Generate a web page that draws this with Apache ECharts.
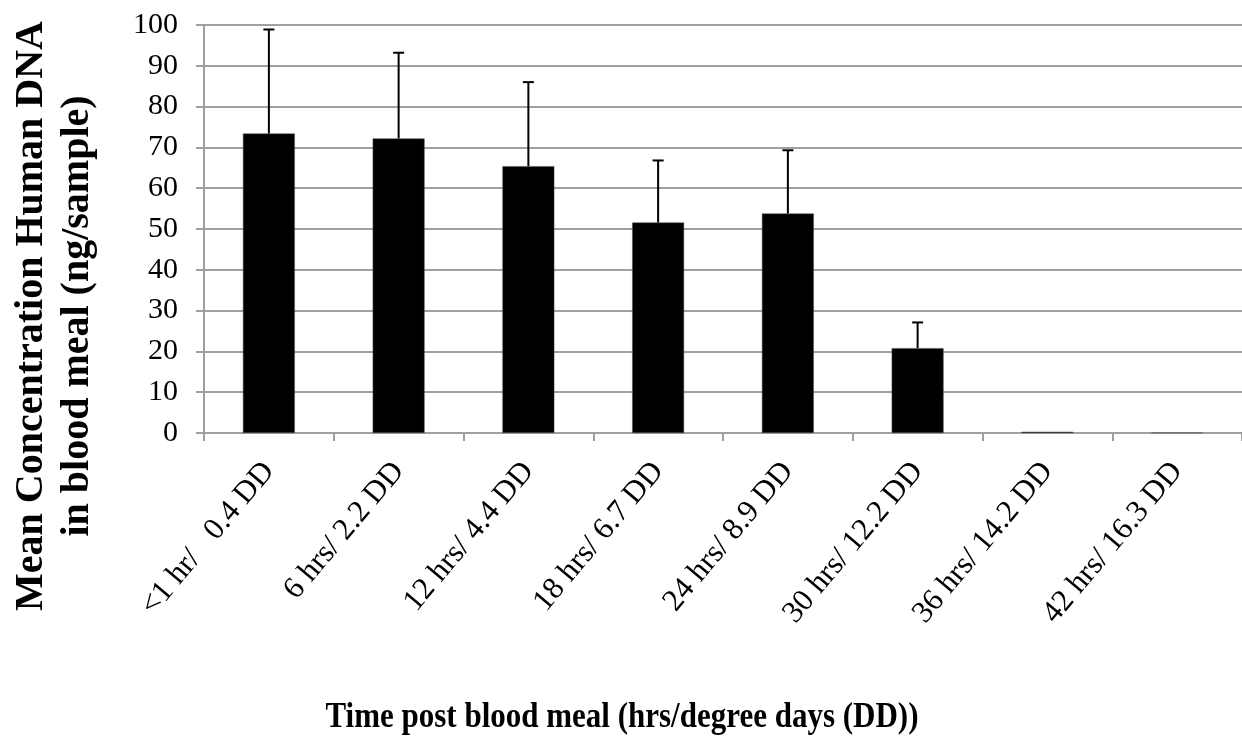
<!DOCTYPE html>
<html>
<head>
<meta charset="utf-8">
<script src="https://cdn.jsdelivr.net/npm/echarts@6/dist/echarts.min.js"></script>
<style>
html,body{margin:0;padding:0;background:#fff;}
#chart{width:1242px;height:741px;}
</style>
</head>
<body>
<div id="chart"></div>
<script>
const categories = ['<1 hr/   0.4 DD', '6 hrs/ 2.2 DD', '12 hrs/ 4.4 DD', '18 hrs/ 6.7 DD', '24 hrs/ 8.9 DD', '30 hrs/ 12.2 DD', '36 hrs/ 14.2 DD', '42 hrs/ 16.3 DD'];
const meanValues = [73.4, 72.2, 65.4, 51.6, 53.8, 20.8, 0.3, 0.1];
const errorTops = [98.9, 93.2, 86.0, 66.8, 69.3, 27.1, 0.3, 0.1];
const yTitleLines = ['Mean Concentration Human DNA', 'in blood meal (ng/sample)'];
const xTitle = 'Time post blood meal (hrs/degree days (DD))';

const serif = '"Liberation Serif", "Times New Roman", serif';
const chart = echarts.init(document.getElementById('chart'));

const errData = categories.map((c, i) => [i, meanValues[i], errorTops[i]]);

chart.setOption({
  animation: false,
  backgroundColor: '#ffffff',
  grid: { left: 204, right: 0, top: 25, bottom: 308, containLabel: false },
  xAxis: {
    type: 'category',
    data: categories,
    boundaryGap: true,
    axisLine: { show: true, lineStyle: { color: '#a0a0a0', width: 2 } },
    axisTick: { show: true, length: 8, lineStyle: { color: '#a0a0a0', width: 2 } },
    axisLabel: { rotate: 50, margin: 33, fontFamily: serif, fontSize: 31, color: '#000' }
  },
  yAxis: {
    type: 'value',
    min: 0, max: 100, interval: 10,
    axisLine: { show: true, lineStyle: { color: '#a0a0a0', width: 2 } },
    axisTick: { show: true, length: 8, lineStyle: { color: '#a0a0a0', width: 2 } },
    splitLine: { show: true, lineStyle: { color: '#a0a0a0', width: 2 } },
    axisLabel: { margin: 26, fontFamily: serif, fontSize: 30, color: '#000' }
  },
  series: [
    {
      type: 'bar',
      data: meanValues,
      barWidth: '40%',
      itemStyle: { color: '#000', borderColor: '#555', borderWidth: 0.5 },
      z: 2
    },
    {
      type: 'custom',
      data: errData,
      z: 3,
      renderItem: function (params, api) {
        const x = api.value(0);
        const lo = api.coord([x, api.value(1)]);
        const hi = api.coord([x, api.value(2)]);
        if (Math.abs(lo[1] - hi[1]) < 1) return null;
        const half = 5.5;
        return {
          type: 'group',
          children: [
            { type: 'line', shape: { x1: lo[0], y1: lo[1], x2: hi[0], y2: hi[1] }, style: { stroke: '#000', lineWidth: 2 } },
            { type: 'line', shape: { x1: hi[0] - half, y1: hi[1], x2: hi[0] + half, y2: hi[1] }, style: { stroke: '#000', lineWidth: 2 } }
          ]
        };
      }
    }
  ],
  graphic: [
    {
      type: 'text', x: 32, y: 316, rotation: Math.PI / 2,
      style: { text: yTitleLines[0], fontFamily: serif, fontWeight: 'bold', fontSize: 40, fill: '#000', align: 'center', verticalAlign: 'middle' }
    },
    {
      type: 'text', x: 78, y: 316, rotation: Math.PI / 2,
      style: { text: yTitleLines[1], fontFamily: serif, fontWeight: 'bold', fontSize: 40, fill: '#000', align: 'center', verticalAlign: 'middle' }
    },
    {
      type: 'text', x: 622, y: 718, scaleY: 1.15,
      style: { text: xTitle, fontFamily: serif, fontWeight: 'bold', fontSize: 31, fill: '#000', align: 'center', verticalAlign: 'middle' }
    }
  ]
});
</script>
</body>
</html>
